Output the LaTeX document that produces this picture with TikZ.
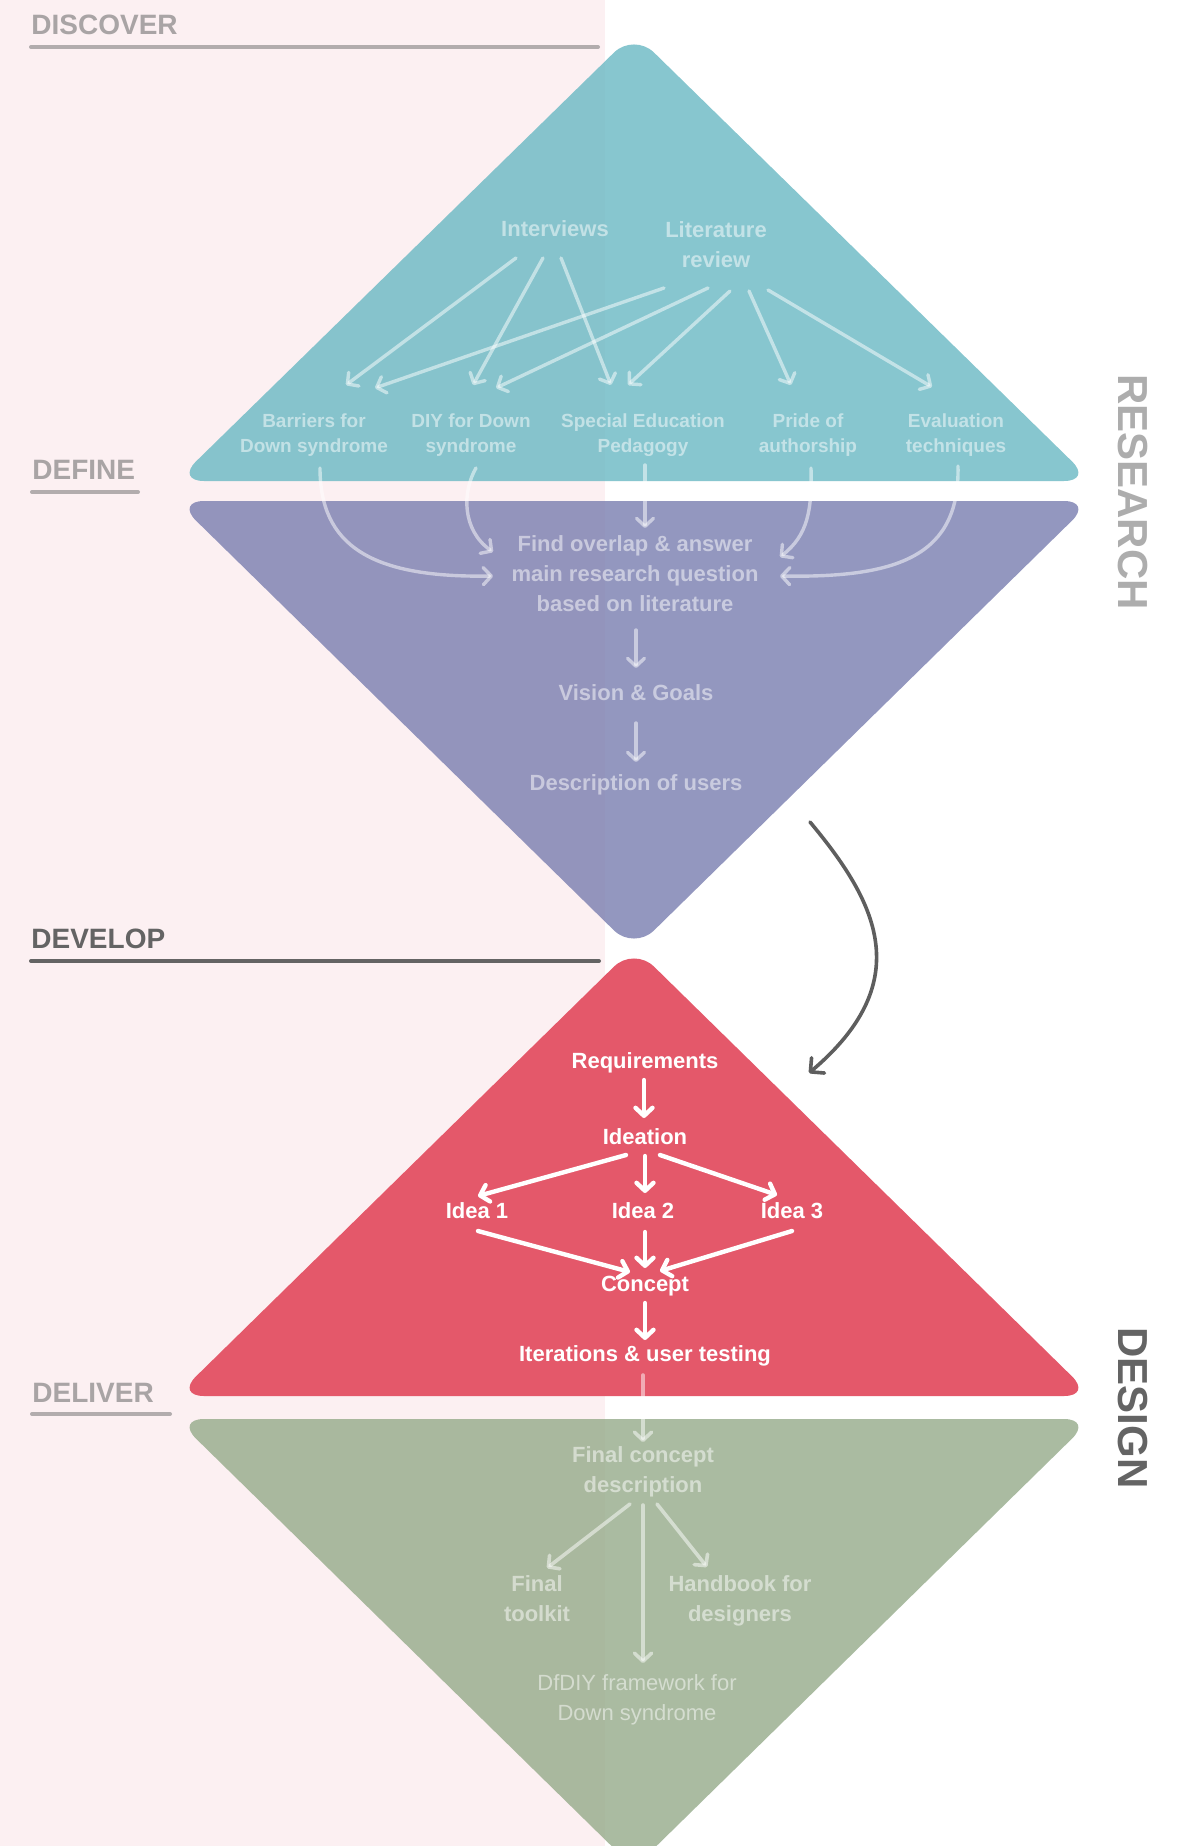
\documentclass[tikz,border=0pt]{standalone}
\usepackage{fontspec}
\setmainfont{Liberation Sans}
\usetikzlibrary{arrows.meta,calc}
\definecolor{pinkbg}{HTML}{FCF0F2}
\definecolor{tealc}{HTML}{69B8C3}
\definecolor{purpc}{HTML}{797DAF}
\definecolor{redc}{HTML}{E4586A}
\definecolor{greenc}{HTML}{95AB8A}
\definecolor{headgray}{HTML}{A9A4A5}
\definecolor{headline}{HTML}{B2ACAD}
\definecolor{headdark}{HTML}{646464}
\definecolor{sidegray}{HTML}{ADADAD}
\definecolor{arrdark}{HTML}{5E5E5E}
\begin{document}
\begin{tikzpicture}[x=0.5pt,y=-0.5pt,
  lab/.style={text=white, text opacity=0.5, font=\bfseries\fontsize{11pt}{15pt}\selectfont, align=center, inner sep=0pt},
  labs/.style={lab, font=\bfseries\fontsize{9.5pt}{12.75pt}\selectfont},
  labr/.style={lab, font=\fontsize{11pt}{15pt}\selectfont},
  rlab/.style={text=white, font=\bfseries\fontsize{11pt}{15pt}\selectfont, align=center, inner sep=0pt},
  farr/.style={draw=white, draw opacity=0.5, line width=1.7pt, line cap=round, -{Straight Barb[round,length=4pt,width=8.5pt]}},
  garr/.style={farr, line width=1.8pt},
  rarr/.style={draw=white, line width=2.2pt, line cap=round, -{Straight Barb[round,length=4pt,width=8.5pt]}},
  head/.style={font=\bfseries\fontsize{14pt}{16pt}\selectfont, anchor=base west, inner sep=0pt},
  hline/.style={line width=2pt, line cap=round},
  side/.style={font=\bfseries\fontsize{21pt}{24pt}\selectfont, rotate=-90, inner sep=0pt},
  tri/.style={rounded corners=14pt}
]
\fill[white] (0,0) rectangle (1186,1846);
\useasboundingbox (0,0) rectangle (1186,1846);
\clip (0,0) rectangle (1186,1846);
\fill[pinkbg] (0,0) rectangle (605,1846);

% stage shapes
\fill[tealc, fill opacity=0.8, tri] (634,481) -- (1092,481) -- (634,33) -- (176,481) -- cycle;
\fill[purpc, fill opacity=0.8, tri] (634,501) -- (1092,501) -- (634,950) -- (176,501) -- cycle;
\fill[redc, tri] (634,1396) -- (1092,1396) -- (634,947) -- (176,1396) -- cycle;
\fill[greenc, fill opacity=0.8, tri] (634,1419) -- (1092,1419) -- (634,1868) -- (176,1419) -- cycle;

% headings
\node[head, text=headgray] (hdisc) at (31,35) {DISCOVER};
\draw[hline, headline] (31,47) -- (598,47);
\node[head, text=headgray] (hdef) at (32,479) {DEFINE};
\draw[hline, headline] (32,492) -- (138,492);
\node[head, text=headdark] (hdev) at (31,948) {DEVELOP};
\draw[hline, headdark] (31,961) -- (599,961);
\node[head, text=headgray] (hdel) at (32,1402) {DELIVER};
\draw[hline, headline] (32,1414) -- (170,1414);

\node[side, text=sidegray] (research) at (1133,492) {RESEARCH};
\node[side, text=headdark] (design) at (1133,1408) {DESIGN};

% discover
\node[lab] (int) at (555,229) {Interviews};
\node[lab] (lit) at (716,245) {Literature\\review};
\node[labs] (bar) at (314,435) {Barriers for\\Down syndrome};
\node[labs] (diy) at (471,435) {DIY for Down\\syndrome};
\node[labs] (sep) at (643,435) {Special Education\\Pedagogy};
\node[labs] (pri) at (808,435) {Pride of\\authorship};
\node[labs] (eva) at (956,435) {Evaluation\\techniques};

\draw[farr] ($(int)+(-39,29)$) -- ($(bar)+(32,-50)$);
\draw[farr] ($(int)+(-12,29)$) -- ($(diy)+(2,-50)$);
\draw[farr] ($(int)+(6,29)$) -- ($(sep)+(-32,-50)$);
\draw[farr] ($(lit)+(-52,43)$) -- ($(bar)+(61,-47)$);
\draw[farr] ($(lit)+(-8,43)$) -- ($(diy)+(25,-47)$);
\draw[farr] ($(lit)+(14,46)$) -- ($(sep)+(-15,-50)$);
\draw[farr] ($(lit)+(33,46)$) -- ($(pri)+(-17,-50)$);
\draw[farr] ($(lit)+(52,45)$) -- ($(eva)+(-24,-48)$);

% define
\node[lab] (fin) at (635,574) {Find overlap \& answer\\main research question\\based on literature};
\node[lab] (vis) at (636,693) {Vision \& Goals};
\node[lab] (des) at (636,785) {Description of users};

\draw[farr] ($(sep)+(2,30)$) -- ($(fin)+(10,-46)$);
\draw[farr] ($(fin)+(1,56)$) -- ($(vis)+(0,-25)$);
\draw[farr] ($(vis)+(0,30)$) -- ($(des)+(0,-23)$);
\draw[farr] ($(bar)+(6,33)$) .. controls ($(bar)+(6,110)$) and ($(fin)+(-265,4)$) .. ($(fin)+(-142,2)$);
\draw[farr] ($(diy)+(5,33)$) .. controls ($(diy)+(-9,57)$) and ($(fin)+(-173,-44)$) .. ($(fin)+(-142,-22)$);
\draw[farr] ($(pri)+(3,33)$) .. controls ($(pri)+(4,75)$) and ($(fin)+(173,-39)$) .. ($(fin)+(145,-17)$);
\draw[farr] ($(eva)+(2,31)$) .. controls ($(eva)+(4,120)$) and ($(fin)+(265,4)$) .. ($(fin)+(145,2)$);

% transition arrow
\coordinate (cs) at (810,822);
\coordinate (ce) at (809,1073);
\draw[arrdark, line width=1.8pt, line cap=round, -{Straight Barb[round,length=5pt,width=10pt]}] (cs) .. controls (875,900) and (919,980) .. (ce);

% develop
\node[rlab] (req) at (645,1063) {Requirements};
\node[rlab] (ide) at (645,1137) {Ideation};
\node[rlab] (i1) at (477,1211) {Idea 1};
\node[rlab] (i2) at (643,1211) {Idea 2};
\node[rlab] (i3) at (792,1211) {Idea 3};
\node[rlab] (con) at (645,1286) {Concept};
\node[rlab] (ite) at (645,1356) {Iterations \& user testing};

\draw[rarr] ($(req)+(-1,17)$) -- ($(ide)+(-1,-19)$);
\draw[rarr] ($(ide)+(-19,18)$) -- ($(i1)+(1,-15)$);
\draw[rarr] ($(ide)+(0,19)$) -- ($(i2)+(2,-18)$);
\draw[rarr] ($(ide)+(15,18)$) -- ($(i3)+(-15,-16)$);
\draw[rarr] ($(i1)+(1,20)$) -- ($(con)+(-15,-14)$);
\draw[rarr] ($(i2)+(2,21)$) -- ($(con)+(0,-18)$);
\draw[rarr] ($(i3)+(0,20)$) -- ($(con)+(15,-15)$);
\draw[rarr] ($(con)+(0,17)$) -- ($(ite)+(0,-16)$);

% deliver
\node[lab] (fcd) at (643,1472) {Final concept\\description};
\node[lab] (ftk) at (537,1599) {Final\\toolkit};
\node[lab] (hbd) at (740,1601) {Handbook for\\designers};
\node[labr] (dfd) at (637,1700) {DfDIY framework for\\Down syndrome};

\draw[garr] ($(ite)+(-2,19)$) -- ($(fcd)+(0,-30)$);
\draw[garr] ($(fcd)+(-13,32)$) -- ($(ftk)+(10,-31)$);
\draw[garr] ($(fcd)+(0,33)$) -- ($(dfd)+(6,-37)$);
\draw[garr] ($(fcd)+(14,32)$) -- ($(hbd)+(-33,-34)$);
\end{tikzpicture}
\end{document}
